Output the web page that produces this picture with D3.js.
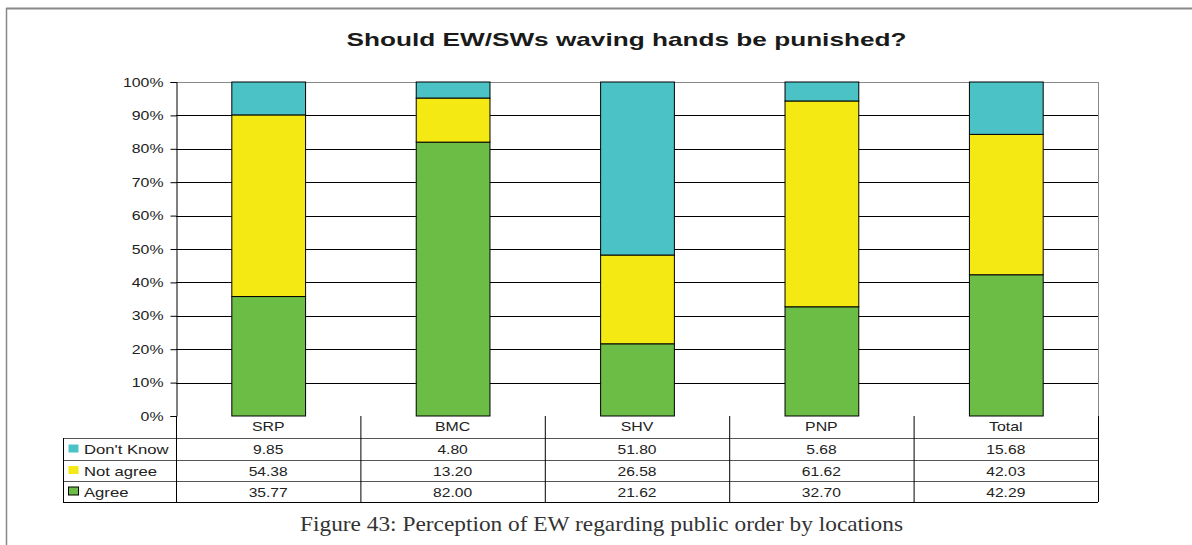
<!DOCTYPE html>
<html><head><meta charset="utf-8">
<script src="https://cdn.jsdelivr.net/npm/d3@7"></script>
<style>body{margin:0;background:#fff}svg{display:block}</style>
</head><body>
<svg id="c" width="1192" height="545"></svg>
<script>
const categories = ["SRP","BMC","SHV","PNP","Total"];
const dontKnow = [9.85,4.80,51.80,5.68,15.68];
const notAgree = [54.38,13.20,26.58,61.62,42.03];
const agree = [35.77,82.00,21.62,32.70,42.29];
const seriesNames = ["Don't Know","Not agree","Agree"];
const seriesColors = ["#4BC3C6","#F5E914","#6BBD45"];
const yTicks = [0,10,20,30,40,50,60,70,80,90,100];
const title = "Should EW/SWs waving hands be punished?";
const caption = "Figure 43: Perception of EW regarding public order by locations";

const svg = d3.select("#c");
const L=176, R=1098, T=82, B=416;
const x = d3.scaleBand().domain(categories).range([L,R]).paddingInner(0).paddingOuter(0);
const y = d3.scaleLinear().domain([0,100]).range([B,T]);

// stretch text horizontally
function stretch(sel, f){
  sel.each(function(){
    const w = this.getComputedTextLength();
    d3.select(this).attr("textLength", w*f).attr("lengthAdjust","spacingAndGlyphs");
  });
}
function fitTo(sel, w){
  sel.attr("textLength", w).attr("lengthAdjust","spacingAndGlyphs");
}

// outer frame
svg.append("line").attr("x1",6).attr("x2",1192).attr("y1",8.5).attr("y2",8.5).attr("stroke","#888").attr("stroke-width",2);
svg.append("line").attr("x1",6.5).attr("x2",6.5).attr("y1",8).attr("y2",545).attr("stroke","#888").attr("stroke-width",1.5);

svg.append("text").attr("x",626.5).attr("y",46).attr("text-anchor","middle")
  .attr("font-family","Liberation Sans, Arial, sans-serif").attr("font-weight","bold").attr("font-size",19).attr("fill","#1a1a1a").text(title)
  .call(fitTo, 560);

// gridlines
svg.append("g").selectAll("line").data(yTicks.filter(d=>d>0)).join("line")
  .attr("x1",L).attr("x2",R).attr("y1",d=>Math.round(y(d))+0.5).attr("y2",d=>Math.round(y(d))+0.5)
  .attr("stroke",d=>d===100?"#888":"#000").attr("stroke-width",1);
svg.append("line").attr("x1",R+0.5).attr("x2",R+0.5).attr("y1",T).attr("y2",B).attr("stroke","#888");

// y axis
const ax = svg.append("g").attr("transform",`translate(${L+0.5},0)`)
  .call(d3.axisLeft(y).tickValues(yTicks).tickFormat(d=>d+"%").tickSize(6).tickPadding(7));
ax.select(".domain").attr("stroke","#000");
ax.selectAll(".tick line").attr("stroke","#000");
ax.selectAll(".tick text").attr("font-family","Liberation Sans, Arial, sans-serif").attr("font-size",13).attr("fill","#222").call(stretch,1.22);

// stacks
const rows = categories.map((c,i)=>({cat:c,"Agree":agree[i],"Not agree":notAgree[i],"Don't Know":dontKnow[i]}));
const stack = d3.stack().keys(["Agree","Not agree","Don't Know"])(rows);
const colorOf = k => seriesColors[seriesNames.indexOf(k)];
const bw = x.bandwidth()*0.4;
stack.forEach(s=>{
  svg.append("g").selectAll("rect").data(s).join("rect")
    .attr("x",d=>x(d.data.cat)+(x.bandwidth()-bw)/2+0.5)
    .attr("y",d=>y(d[1]))
    .attr("width",bw)
    .attr("height",d=>y(d[0])-y(d[1]))
    .attr("fill",colorOf(s.key)).attr("stroke","#000").attr("stroke-width",1);
});

// data table
const rowH = [416,438,460,481,502];
const tl = 63;
const tg = svg.append("g").attr("font-family","Liberation Sans, Arial, sans-serif").attr("font-size",13).attr("fill","#222");
[438,460,481,502].forEach((yy,i)=>{
  tg.append("line").attr("x1",tl).attr("x2",R).attr("y1",yy+0.5).attr("y2",yy+0.5).attr("stroke",i===3?"#000":"#555");
});
tg.append("line").attr("x1",tl+0.5).attr("x2",tl+0.5).attr("y1",438).attr("y2",502).attr("stroke","#000");
tg.append("line").attr("x1",L+0.5).attr("x2",L+0.5).attr("y1",416).attr("y2",502).attr("stroke","#000");
categories.forEach(c=>{
  tg.append("line").attr("x1",x(c)+x.bandwidth()+0.5).attr("x2",x(c)+x.bandwidth()+0.5).attr("y1",416).attr("y2",502).attr("stroke","#000");
  tg.append("text").attr("x",x(c)+x.bandwidth()/2).attr("y",431).attr("text-anchor","middle").text(c).call(stretch,1.22);
});
const vals = [dontKnow,notAgree,agree];
vals.forEach((arr,r)=>{
  const yc = (rowH[r+1]+rowH[r+2])/2 + 5;
  arr.forEach((v,i)=>{
    tg.append("text").attr("x",x(categories[i])+x.bandwidth()/2).attr("y",yc).attr("text-anchor","middle").text(v.toFixed(2)).call(stretch,1.2);
  });
  tg.append("rect").attr("x",68.5).attr("y",yc-9.5).attr("width",10).attr("height",8)
    .attr("fill",seriesColors[r]).attr("stroke",r===2?"#000":"none");
  tg.append("text").attr("x",84).attr("y",yc).text(seriesNames[r]).call(stretch,1.28);
});

svg.append("text").attr("x",601.5).attr("y",531).attr("text-anchor","middle")
  .attr("font-family","Liberation Serif, Times New Roman, serif").attr("font-size",21).attr("fill","#333").text(caption)
  .call(fitTo, 603);
</script>
</body></html>
